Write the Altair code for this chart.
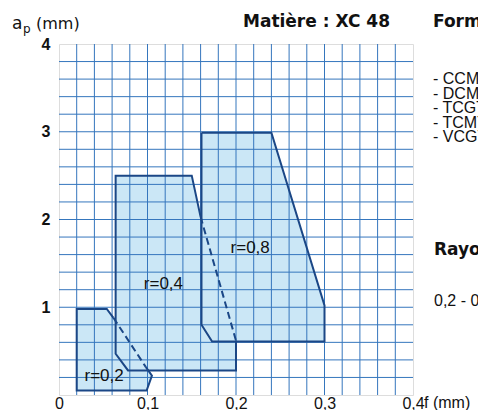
import altair as alt
import pandas as pd

# ---------------- data ----------------
x_ticks = [0.0, 0.1, 0.2, 0.3, 0.4]
x_tick_labels = ["0", "0,1", "0,2", "0,3", "0,4"]
y_ticks = [1, 2, 3, 4]
y_tick_labels = ["1", "2", "3", "4"]

x_grid = [0.02, 0.04, 0.06, 0.08, 0.10, 0.12, 0.14, 0.16, 0.18, 0.20,
          0.22, 0.24, 0.26, 0.28, 0.30, 0.32, 0.34, 0.36, 0.38]
y_grid = [0.2, 0.4, 0.6, 0.8, 1.0, 1.2, 1.4, 1.6, 1.8, 2.0,
          2.2, 2.4, 2.6, 2.8, 3.0, 3.2, 3.4, 3.6, 3.8]

regions = ["r=0,8", "r=0,4", "r=0,2"]
# boundary points; for r=0,4 and r=0,2 the closing edge (last -> first) is dashed
r08_x = [0.161, 0.240, 0.300, 0.300, 0.173, 0.161]
r08_y = [2.99, 2.99, 1.02, 0.61, 0.61, 0.80]
r04_x = [0.200, 0.200, 0.078, 0.064, 0.064, 0.150, 0.160]
r04_y = [0.62, 0.28, 0.28, 0.47, 2.50, 2.50, 2.03]
r02_x = [0.098, 0.105, 0.099, 0.020, 0.020, 0.054, 0.0615]
r02_y = [0.32, 0.22, 0.05, 0.05, 0.98, 0.98, 0.88]
dashed_closing = [False, True, True]

label_x = [0.216, 0.118, 0.051]
label_y = [1.68, 1.265, 0.215]

# ---------------- styles ----------------
FILL = "#cbe7f6"
GRID = "#3576bd"
EDGE = "#1b4786"
TXT = "#111111"
FONT = "Liberation Sans"

pts = {"r=0,8": (r08_x, r08_y), "r=0,4": (r04_x, r04_y), "r=0,2": (r02_x, r02_y)}

fill_rows, solid_rows, dash_rows = [], [], []
for reg, dashed in zip(regions, dashed_closing):
    xs, ys = pts[reg]
    n = len(xs)
    for i in range(n + 1):
        fill_rows.append({"region": reg, "o": i, "x": xs[i % n], "y": ys[i % n]})
    m = n if dashed else n + 1
    for i in range(m):
        solid_rows.append({"region": reg, "o": i, "x": xs[i % n], "y": ys[i % n]})
    if dashed:
        dash_rows.append({"region": reg, "o": 0, "x": xs[-1], "y": ys[-1]})
        dash_rows.append({"region": reg, "o": 1, "x": xs[0], "y": ys[0]})

fill_df = pd.DataFrame(fill_rows)
solid_df = pd.DataFrame(solid_rows)
dash_df = pd.DataFrame(dash_rows)
lab_df = pd.DataFrame({"label": regions, "x": label_x, "y": label_y})
xg_df = pd.DataFrame({"x": x_grid})
yg_df = pd.DataFrame({"y": y_grid})

x_expr = "[" + ",".join("'%s'" % s for s in x_tick_labels) + "][indexof([" + \
    ",".join(str(v) for v in x_ticks) + "], datum.value)]"
y_expr = "[" + ",".join("'%s'" % s for s in y_tick_labels) + "][indexof([" + \
    ",".join(str(v) for v in y_ticks) + "], datum.value)]"

xscale = alt.Scale(domain=[0, 0.4], nice=False, zero=False)
yscale = alt.Scale(domain=[0, 4], nice=False, zero=False)
xaxis = alt.Axis(values=x_ticks, labelExpr=x_expr, grid=False, ticks=False, tickSize=0,
                 domain=False, title=None, labelFont=FONT, labelFontSize=16,
                 labelColor=TXT, labelBaseline="alphabetic", labelPadding=13,
                 labelFlush=False, labelOverlap=False)
yaxis = alt.Axis(values=y_ticks, labelExpr=y_expr, grid=False, ticks=False, tickSize=0,
                 domain=False, title=None, labelFont=FONT, labelFontSize=16,
                 labelFontWeight="bold", labelColor=TXT, labelPadding=9,
                 labelFlush=False, labelOverlap=False)

X = alt.X("x:Q", scale=xscale, axis=xaxis)
Y = alt.Y("y:Q", scale=yscale, axis=yaxis)

fills = alt.Chart(fill_df).mark_line(fill=FILL, strokeOpacity=0).encode(
    x=X, y=Y, order="o:O", detail="region:N")

gx = alt.Chart(xg_df).mark_rule(color=GRID, strokeWidth=1).encode(x=X)
gy = alt.Chart(yg_df).mark_rule(color=GRID, strokeWidth=1).encode(y=Y)

solid = alt.Chart(solid_df).mark_line(color=EDGE, strokeWidth=2).encode(
    x=X, y=Y, order="o:O", detail="region:N")
dash = alt.Chart(dash_df).mark_line(color=EDGE, strokeWidth=2, strokeDash=[7, 4]).encode(
    x=X, y=Y, order="o:O", detail="region:N")

labels = alt.Chart(lab_df).mark_text(font=FONT, fontSize=17, color=TXT).encode(
    x=X, y=Y, text="label:N")


def txt(s, px, py, size=16, weight="normal", font=FONT, align="left"):
    return alt.Chart(pd.DataFrame({"t": [s]})).mark_text(
        font=font, fontSize=size, fontWeight=weight, color=TXT, align=align,
        baseline="alphabetic").encode(x=alt.value(px), y=alt.value(py), text="t:N")


right_list = ["- CCMT", "- DCMT", "- TCGT", "- TCMT", "- VCGT"]
list_base = [40, 54.5, 69, 83.5, 98]

annots = [
    txt("a", -47, -15, size=17, font="DejaVu Sans"),
    txt("p", -36, -11.5, size=12, font="DejaVu Sans"),
    txt("(mm)", -23, -15, size=16, font="DejaVu Sans"),
    txt("Matière : XC 48", 184, -17, size=17, weight="bold", font="DejaVu Sans"),
    txt("Formes :", 374, -17, size=17, weight="bold", font="DejaVu Sans"),
    txt("Rayon de bec :", 375, 211, size=17, weight="bold", font="DejaVu Sans"),
    txt("0,2 - 0,4 - 0,8", 375, 262),
    txt("f (mm)", 365, 364),
]
for s, b in zip(right_list, list_base):
    annots.append(txt(s, 374, b, size=16))

chart = alt.layer(fills, gx, gy, solid, dash, labels, *annots).properties(
    width=354, height=351,
    autosize=alt.AutoSizeParams(type="none"),
    padding={"left": 51, "top": 36, "right": 65, "bottom": 15},
).configure_view(stroke="#2b2b2b", strokeWidth=1.5).configure(background="white")

chart.save("out.html", embed_options={"renderer": "svg", "actions": False})
